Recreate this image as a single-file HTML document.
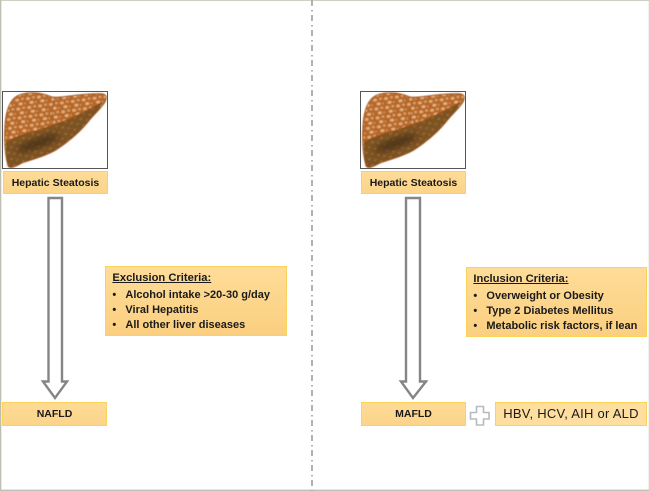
<!DOCTYPE html>
<html>
<head>
<meta charset="utf-8">
<style>
html,body{margin:0;padding:0;background:#fff}
body{width:650px;height:491px;position:relative;overflow:hidden;font-family:"Liberation Sans",sans-serif;color:#1a1a1a}
.b{position:absolute;box-sizing:border-box;border:1.6px solid #fcd35a;background:linear-gradient(#fedb97,#fcd489);font-weight:bold;font-size:10.5px;text-align:center;filter:blur(.3px)}
.c{position:absolute;box-sizing:border-box;border:1.6px solid #fcd35a;background:linear-gradient(#fedc98,#fbcf80);font-weight:bold;font-size:11px;line-height:15.3px;padding:4.4px 0 0 6.4px;filter:blur(.3px)}
.c u{display:block;font-size:11.2px;margin-bottom:1px}
.c div{padding-left:13px;position:relative;white-space:nowrap}
.c div:before{content:"•";position:absolute;left:0}
svg{position:absolute;left:0;top:0}
</style>
</head>
<body>
<svg width="650" height="491" viewBox="0 0 650 491">
<defs>
<pattern id="sp" width="11" height="9" patternUnits="userSpaceOnUse" patternTransform="rotate(-8)">
<ellipse cx="3" cy="2.5" rx="2" ry="1.5" fill="#e3ab76"/>
<ellipse cx="8.5" cy="2" rx="1.5" ry="1.2" fill="#dc9f66"/>
<ellipse cx="6" cy="6.8" rx="2.1" ry="1.5" fill="#e6b07d"/>
<ellipse cx="10.5" cy="7" rx="1.1" ry="1" fill="#d7985e"/>
</pattern>
<pattern id="sd" width="10" height="7" patternUnits="userSpaceOnUse" patternTransform="rotate(-25)">
<ellipse cx="3" cy="2" rx="1.5" ry="1" fill="#9c6c36"/>
<ellipse cx="8" cy="5.3" rx="1.5" ry="1" fill="#966632"/>
</pattern>
<filter id="bl"><feGaussianBlur stdDeviation="0.4"/></filter>
<filter id="bl2"><feGaussianBlur stdDeviation="3"/></filter>
<g id="liver">
<rect x="2.5" y="91.5" width="105" height="77" fill="#fff" stroke="#555" stroke-width="1"/>
<g filter="url(#bl)">
<path d="M8 166C5 155 4 140 5 125C6 110 10 100 17 96C25 92 38 91 52 97C60 98 68 96 78 95C88 94 98 93 103 94C107 95 107 98 105 102C100 110 94 114 88 122C80 132 68 142 56 150C44 157 30 160 22 163C15 167 10 169 8 166Z" fill="#b5682a"/>
<path d="M8 166C5 155 4 140 5 125C6 110 10 100 17 96C25 92 38 91 52 97C60 98 68 96 78 95C88 94 98 93 103 94C107 95 107 98 105 102C100 110 94 114 88 122C80 132 68 142 56 150C44 157 30 160 22 163C15 167 10 169 8 166Z" fill="url(#sp)"/>
<path d="M6 142C14 138 24 134 33 132C44 129 52 125 60 123C72 118 86 112 102 102C100 110 94 114 88 122C80 132 68 142 56 150C44 157 30 160 22 163C15 167 10 169 8 166C6 158 6 150 6 142Z" fill="#7c5224"/>
<path d="M6 142C14 138 24 134 33 132C44 129 52 125 60 123C72 118 86 112 102 102C100 110 94 114 88 122C80 132 68 142 56 150C44 157 30 160 22 163C15 167 10 169 8 166C6 158 6 150 6 142Z" fill="url(#sd)"/>
<path d="M6 142C14 138 24 134 33 132C44 129 52 125 60 123C72 118 86 112 101 103" fill="none" stroke="#9a4f18" stroke-width="1.3"/>
<path d="M55 97C52 106 52 116 53 125" fill="none" stroke="#9a5822" stroke-width=".8"/>
<ellipse cx="38" cy="143" rx="22" ry="5.5" transform="rotate(-20 38 143)" fill="#4a3114" opacity=".8" filter="url(#bl2)"/>
<path d="M8 166C5 155 4 140 5 125C6 110 10 100 17 96C25 92 38 91 52 97C60 98 68 96 78 95C88 94 98 93 103 94C107 95 107 98 105 102C100 110 94 114 88 122C80 132 68 142 56 150C44 157 30 160 22 163C15 167 10 169 8 166Z" fill="none" stroke="#a0561e" stroke-width="1"/>
</g>
</g>
</defs>
<rect x="0" y="0" width="650" height="1" fill="#cfcfc4"/>
<rect x="0" y="0" width="1.3" height="491" fill="#bdbdb2"/>
<rect x="0" y="489.6" width="650" height="1.4" fill="#c0c0b6"/>
<rect x="648.7" y="0" width="1.3" height="491" fill="#d4d4cc"/>
<line x1="312" y1="0" x2="312" y2="491" stroke="#a9a9a9" stroke-width="1.8" stroke-dasharray="6 4 1.5 3.5"/>
<use href="#liver"/>
<use href="#liver" x="358"/>
<path d="M48.5 198H62V381.5H67L55 398L43 381.5H48.5Z" fill="#fff" stroke="#858585" stroke-width="2.4"/>
<path d="M406 198H420V381.5H426L413 398L401 381.5H406Z" fill="#fff" stroke="#858585" stroke-width="2.4"/>
<path d="M476.5 406.5H483.5V412.5H489V419H483.5V425H476.5V419H470.5V412.5H476.5Z" fill="#fff" stroke="#b7babd" stroke-width="1.6"/>
</svg>
<div class="b" style="left:3px;top:171px;width:105px;height:23px;line-height:22px">Hepatic Steatosis</div>
<div class="b" style="left:361px;top:171px;width:105px;height:23px;line-height:22px">Hepatic Steatosis</div>
<div class="b" style="left:2px;top:402px;width:105px;height:24px;line-height:23px">NAFLD</div>
<div class="b" style="left:361px;top:402px;width:105px;height:24px;line-height:23px">MAFLD</div>
<div class="b" style="left:495px;top:402px;width:152px;height:24px;line-height:22px;font-weight:normal;font-size:13px;letter-spacing:.25px;background:#fedf9f">HBV, HCV, AIH or ALD</div>
<div class="c" style="left:105px;top:266px;width:182px;height:70px"><u>Exclusion Criteria:</u><div>Alcohol intake &gt;20-30 g/day</div><div>Viral Hepatitis</div><div>All other liver diseases</div></div>
<div class="c" style="left:466px;top:267px;width:181px;height:70px"><u>Inclusion Criteria:</u><div>Overweight or Obesity</div><div>Type 2 Diabetes Mellitus</div><div>Metabolic risk factors, if lean</div></div>
</body>
</html>
